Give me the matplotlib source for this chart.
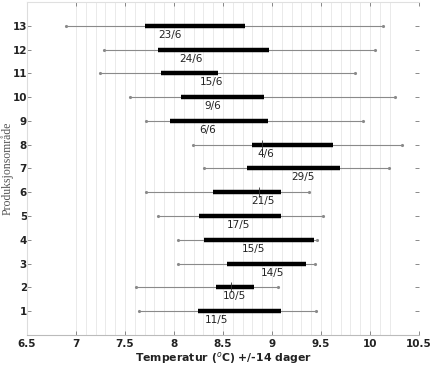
import numpy as np
import matplotlib.pyplot as plt

# Data (rows 1..13)
areas = list(range(1, 14))
whisk_lo = [7.64, 7.61, 8.04, 8.04, 7.84, 7.71, 8.31, 8.19, 7.71, 7.55, 7.24, 7.29, 6.90]
whisk_hi = [9.45, 9.06, 9.44, 9.46, 9.52, 9.38, 10.19, 10.33, 9.93, 10.25, 9.85, 10.05, 10.13]
bar_lo = [8.24, 8.43, 8.54, 8.31, 8.26, 8.40, 8.74, 8.80, 7.96, 8.07, 7.87, 7.84, 7.70]
bar_hi = [9.09, 8.82, 9.35, 9.43, 9.09, 9.09, 9.69, 9.62, 8.96, 8.92, 8.45, 8.97, 8.72]
label_x = [8.39, 8.58, 8.96, 8.77, 8.62, 8.87, 9.28, 8.90, 8.30, 8.36, 8.34, 8.13, 7.92]
# small vertical marks visible on some rows
mark_x = [None, 8.58, None, None, None, 8.87, None, 8.90, None, None, None, None, None]
dates = ['11/5', '10/5', '14/5', '15/5', '17/5', '21/5', '29/5', '4/6', '6/6', '9/6', '15/6', '24/6', '23/6']

fig = plt.figure(figsize=(4.32, 3.66), dpi=100)
ax = fig.add_axes([0.0625, 0.085, 0.9075, 0.9095])

# light vertical grid
for gx in np.arange(7.0, 10.21, 0.1):
    ax.axvline(gx, color='#e6e6e6', lw=0.6, zorder=0)

for i, y in enumerate(areas):
    ax.plot([whisk_lo[i], whisk_hi[i]], [y, y], color='#8a8a8a', lw=0.8,
            marker='.', markersize=2.5, zorder=1)
    ax.plot([bar_lo[i], bar_hi[i]], [y, y], color='black', lw=3.2,
            solid_capstyle='butt', zorder=2)
    if mark_x[i] is not None:
        ax.plot([mark_x[i]], [y], marker='|', color='#333333', markersize=7,
                markeredgewidth=0.6, zorder=3)
    ax.text(label_x[i] + 0.04, y - 0.38, dates[i], ha='center', va='center',
            fontsize=7.5, color='#222222')

ax.set_xlim(6.5, 10.5)
ax.set_ylim(0, 14)
ax.set_xticks(np.arange(6.5, 10.51, 0.5))
ax.set_xticklabels(['6.5', '7', '7.5', '8', '8.5', '9', '9.5', '10', '10.5'])
ax.set_yticks(areas)
ax.tick_params(direction='in', length=3, width=0.6, color='#777777',
               top=True, right=True, labelsize=7.5)
ax.tick_params(axis='y', pad=0)
ax.tick_params(axis='x', pad=3)
for lab in ax.get_xticklabels() + ax.get_yticklabels():
    lab.set_fontweight('bold')
    lab.set_color('#222222')

ax.spines['right'].set_visible(False)
ax.spines['top'].set_color('#e0e0e0')
ax.spines['left'].set_color('#dddddd')
ax.spines['bottom'].set_color('#bbbbbb')

ax.set_xlabel('Temperatur ($^{o}$C) +/-14 dager', fontsize=7.8, fontweight='bold',
              color='#222222', labelpad=1)
ax.set_ylabel('Produksjonsområde', fontsize=8.5, family='Liberation Serif',
              color='#555555')
ax.yaxis.set_label_coords(-0.034, 0.5)

fig.savefig('out.png', dpi=100)
